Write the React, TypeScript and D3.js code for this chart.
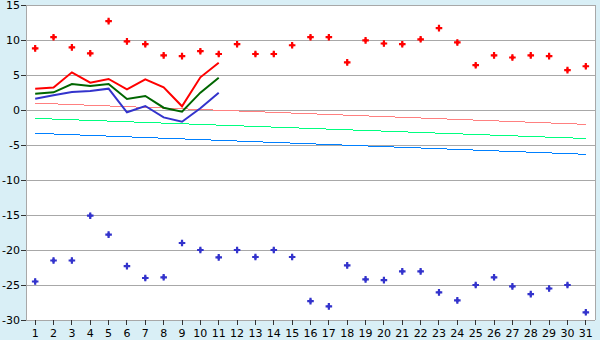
import React from "react";
import * as d3 from "d3";

const days: number[] = Array.from({ length: 31 }, (_, i) => i + 1);
const yTicks: number[] = [-30, -25, -20, -15, -10, -5, 0, 5, 10, 15];

const recordHigh: number[] = [8.8, 10.4, 8.95, 8.1, 12.7, 9.8, 9.4, 7.8, 7.7, 8.4, 8.0, 9.4, 8.0, 8.0, 9.25, 10.4, 10.4, 6.8, 9.95, 9.5, 9.4, 10.1, 11.7, 9.65, 6.4, 7.8, 7.5, 7.8, 7.7, 5.7, 6.25];
const recordLow: number[] = [-24.5, -21.5, -21.5, -15.1, -17.8, -22.3, -24.0, -23.9, -19.0, -20.0, -21.05, -20.0, -21.0, -20.0, -21.0, -27.3, -28.05, -22.2, -24.2, -24.3, -23.05, -23.05, -26.05, -27.2, -25.0, -23.9, -25.2, -26.3, -25.5, -25.0, -28.9];

const maxTemp: number[] = [3.05, 3.2, 5.38, 3.9, 4.43, 2.95, 4.38, 3.24, 0.53, 4.67, 6.76];
const meanTemp: number[] = [2.33, 2.52, 3.71, 3.43, 3.71, 1.57, 2.0, 0.33, -0.24, 2.48, 4.62];
const minTemp: number[] = [1.62, 2.1, 2.57, 2.71, 3.05, -0.33, 0.57, -1.05, -1.67, 0.24, 2.48];

const normalMaxEnds: [number, number][] = [[1, 0.98], [31, -2.05]];
const normalMeanEnds: [number, number][] = [[1, -1.2], [31, -4.07]];
const normalMinEnds: [number, number][] = [[1, -3.33], [31, -6.33]];

const W = 600, H = 340;
const L = 26, R = 595, T = 5, B = 320;

export default function App() {
  const x = d3.scalePoint<number>().domain(days).range([L, R]).padding(0.5);
  const y = d3.scaleLinear().domain([-30, 15]).range([B, T]);
  const line = d3.line<number>().x((_, i) => x(days[i])!).y((d) => y(d));
  const seg = d3.line<[number, number]>().x((d) => x(d[0])!).y((d) => y(d[1]));
  const cross = d3.symbol().type(d3.symbolCross).size(24)()!;
  const diamond = d3.symbol().type(d3.symbolDiamond).size(12)()!;
  const font = "'DejaVu Sans', Verdana, sans-serif";

  return (
    <div style={{ position: "fixed", left: 0, top: 0 }}>
      <svg width={W} height={H} style={{ display: "block" }}>
        <rect x={0} y={0} width={W} height={H} fill="#d9eff6" />
        <rect x={L} y={T} width={R - L} height={B - T} fill="#ffffff" />
        {yTicks.map((t) => (
          <g key={t}>
            <line x1={L} x2={R} y1={y(t)} y2={y(t)} stroke="#a8a8a8" strokeWidth={1} shapeRendering="crispEdges" />
            <line x1={L - 5} x2={L} y1={y(t)} y2={y(t)} stroke="#333" strokeWidth={1} shapeRendering="crispEdges" />
            <text x={L - 6} y={y(t) + 4} textAnchor="end" fontSize={11} fontFamily={font} fill="#000">
              {String(t)}
            </text>
          </g>
        ))}
        <line x1={L} x2={L} y1={T} y2={B} stroke="#a8a8a8" shapeRendering="crispEdges" />
        <line x1={R} x2={R} y1={T} y2={B} stroke="#a8a8a8" shapeRendering="crispEdges" />
        <line x1={L} x2={R} y1={T} y2={T} stroke="#a8a8a8" shapeRendering="crispEdges" />
        <line x1={L} x2={R} y1={B} y2={B} stroke="#a8a8a8" shapeRendering="crispEdges" />
        {days.map((d) => (
          <g key={d}>
            <line x1={x(d)!} x2={x(d)!} y1={B} y2={B + 5} stroke="#333" shapeRendering="crispEdges" />
            <text x={x(d)!} y={B + 17} textAnchor="middle" fontSize={11} fontFamily={font} fill="#000">
              {d}
            </text>
          </g>
        ))}
        <path d={seg(normalMaxEnds)!} fill="none" stroke="#ff8080" strokeWidth={1} shapeRendering="crispEdges" />
        <path d={seg(normalMeanEnds)!} fill="none" stroke="#00ff80" strokeWidth={1} shapeRendering="crispEdges" />
        <path d={seg(normalMinEnds)!} fill="none" stroke="#0080ff" strokeWidth={1} shapeRendering="crispEdges" />
        <path d={line(maxTemp)!} fill="none" stroke="#ff0000" strokeWidth={2} />
        <path d={line(meanTemp)!} fill="none" stroke="#006600" strokeWidth={2} />
        <path d={line(minTemp)!} fill="none" stroke="#3333cc" strokeWidth={2} />
        {recordHigh.map((v, i) => (
          <g key={"h" + i} transform={`translate(${x(days[i])},${y(v)})`} fill="#ff0000">
            <path d={cross} />
            <path d={diamond} />
          </g>
        ))}
        {recordLow.map((v, i) => (
          <g key={"l" + i} transform={`translate(${x(days[i])},${y(v)})`} fill="#3333cc">
            <path d={cross} />
            <path d={diamond} />
          </g>
        ))}
      </svg>
    </div>
  );
}
